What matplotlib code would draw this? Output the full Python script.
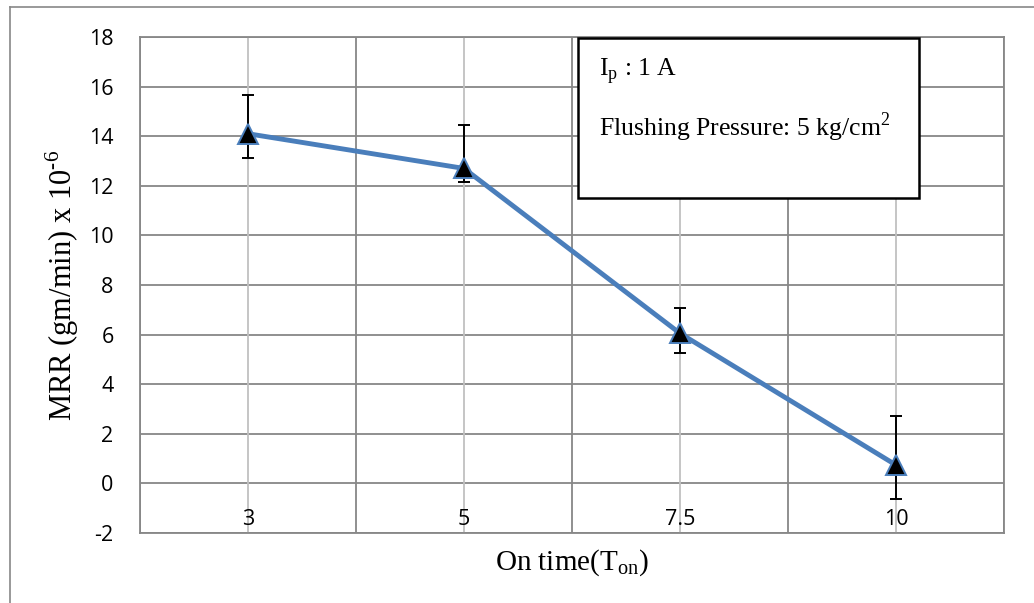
import matplotlib
matplotlib.use("Agg")
import matplotlib.pyplot as plt
from matplotlib.lines import Line2D
from matplotlib.patches import Rectangle

# ---- data ----
categories = ["3", "5", "7.5", "10"]
mrr = [14.1, 12.7, 6.05, 0.74]
err_low = [0.97, 0.53, 0.80, 1.36]
err_high = [1.56, 1.76, 1.02, 1.99]
y_ticks = [-2, 0, 2, 4, 6, 8, 10, 12, 14, 16, 18]

plt.rcParams['mathtext.fontset'] = 'custom'
plt.rcParams['mathtext.rm'] = 'Liberation Serif'

W, H = 1034, 603
fig = plt.figure(figsize=(W / 100, H / 100), dpi=100)
fig.patch.set_facecolor('white')

# outer chart border (clipped by image edge at right/bottom)
fig.add_artist(Line2D([10 / W, 1.0], [1 - 7 / H, 1 - 7 / H], transform=fig.transFigure,
                      color='#888888', lw=1.2))
fig.add_artist(Line2D([10 / W, 10 / W], [0.0, 1 - 7 / H], transform=fig.transFigure,
                      color='#888888', lw=1.2))

left, right, top, bottom = 140, 1004, 37, 533
ax = fig.add_axes([left / W, 1 - bottom / H, (right - left) / W, (bottom - top) / H])

x = list(range(len(categories)))
ax.set_xlim(-0.5, len(categories) - 0.5)
ax.set_ylim(-2, 18)

# grid
for yt in y_ticks:
    ax.axhline(yt, color='#878787', lw=1.3, zorder=0)
for i in range(len(categories) + 1):
    ax.axvline(i - 0.5, color='#878787', lw=1.3, zorder=0)
for xi in x:
    ax.axvline(xi, color='#C0C0C0', lw=1.3, zorder=0)

ax.errorbar(x, mrr, yerr=[err_low, err_high], fmt='none', ecolor='black',
            elinewidth=1.4, capsize=4.5, capthick=1.4, zorder=3)
ax.plot(x, mrr, color='#4A7EBB', lw=3.5, zorder=4,
        marker='^', markersize=14, markerfacecolor='black',
        markeredgecolor='#4A7EBB', markeredgewidth=1.4)

for s in ax.spines.values():
    s.set_color('#878787')
    s.set_linewidth(1.3)

ax.set_yticks(y_ticks)
ax.set_yticklabels([str(v) for v in y_ticks], fontfamily='Open Sans', fontsize=15.5)
ax.tick_params(axis='y', length=0, pad=19)

ax.set_xticks(x)
ax.set_xticklabels(categories, fontfamily='Open Sans', fontsize=15.5)
ax.tick_params(axis='x', length=0, pad=-17)

ax.set_ylabel("MRR (gm/min) x 10$^{\\mathregular{\u20106}}$", fontfamily='Liberation Serif',
              fontsize=22, labelpad=6)
ax.set_xlabel(r"On time(T$_{\mathregular{on}}$)", fontfamily='Liberation Serif',
              fontsize=21, labelpad=10)

# annotation box
bx0 = (578 - left) / (right - left)
bx1 = (919 - left) / (right - left)
by1 = 1 - (38 - top) / (bottom - top)
by0 = (bottom - 198) / (bottom - top)
ax.add_patch(Rectangle((bx0, by0), bx1 - bx0, by1 - by0, transform=ax.transAxes,
                       facecolor='white', edgecolor='black', lw=1.8, zorder=6))
tx = (599 - left) / (right - left)
ax.text(tx, (bottom - 75) / (bottom - top), r"I$_{\mathregular{p}}$ : 1 A",
        transform=ax.transAxes, fontfamily='Liberation Serif', fontsize=18.5,
        va='baseline', ha='left', zorder=7)
ax.text(tx, (bottom - 136) / (bottom - top), r"Flushing Pressure: 5 kg/cm$^{\mathregular{2}}$",
        transform=ax.transAxes, fontfamily='Liberation Serif', fontsize=18.5,
        va='baseline', ha='left', zorder=7)

fig.savefig("out.png", dpi=100, facecolor='white')
